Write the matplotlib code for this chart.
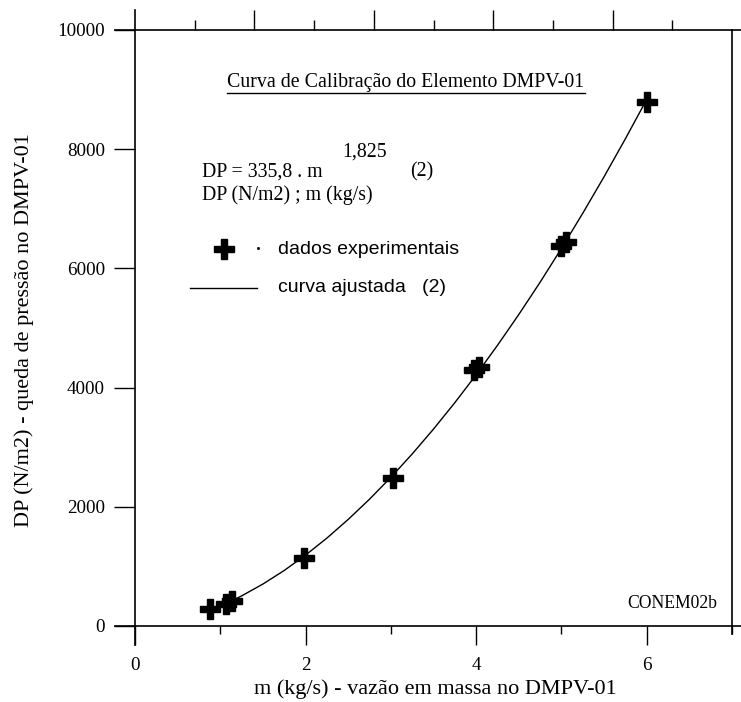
import matplotlib
matplotlib.use("Agg")
import matplotlib.pyplot as plt
from matplotlib.lines import Line2D

# experimental points (m kg/s, DP N/m2)
m_exp = [0.88, 1.07, 1.14, 1.98, 3.03, 3.98, 4.03, 5.00, 5.05, 6.00]
dp_exp = [285, 370, 420, 1140, 2480, 4300, 4350, 6380, 6450, 8800]

# fitted curve (DP = 335,8 . m^1,825)
m_fit = [1.10, 1.25, 1.50, 1.75, 2.00, 2.25, 2.50, 2.75, 3.00, 3.25, 3.50,
         3.75, 4.00, 4.25, 4.50, 4.75, 5.00, 5.25, 5.50, 5.75, 6.00]
dp_fit = [400, 505, 704, 932, 1190, 1475, 1788, 2128, 2494, 2886, 3304,
          3747, 4215, 4709, 5226, 5768, 6335, 6925, 7538, 8175, 8835]

x_ticks = [0, 2, 4, 6]
y_ticks = [0, 2000, 4000, 6000, 8000, 10000]

W, H = 741, 702
fig = plt.figure(figsize=(W / 100, H / 100), dpi=100)
serif = "Liberation Serif"
sans = "Liberation Sans"

# axes box: x 0..7 -> px 135..732, y 0..10000 -> px 626..30
ax = fig.add_axes([135 / W, (H - 626) / H, (732 - 135) / W, (626 - 30) / H])
ax.set_xlim(0, 7)
ax.set_ylim(0, 10000)
for s in ax.spines.values():
    s.set_visible(False)

px = 1 / 597  # one pixel in axes x fraction
py = 1 / 596
lw = 1.2
# frame lines, extending past the box like the original
ax.plot([-20 * px, 1 + 9 * px], [0, 0], color="black", lw=lw, transform=ax.transAxes, clip_on=False)
ax.plot([-20 * px, 1 + 9 * px], [1, 1], color="black", lw=lw, transform=ax.transAxes, clip_on=False)
ax.plot([0, 0], [-19 * py, 1 + 20 * py], color="black", lw=lw, transform=ax.transAxes, clip_on=False)
ax.plot([1, 1], [-8 * py, 1], color="black", lw=lw, transform=ax.transAxes, clip_on=False)

ax.set_xticks(x_ticks)
ax.set_xticks([1, 3, 5, 7], minor=True)
ax.set_yticks(y_ticks)
ax.tick_params(axis="x", which="major", direction="out", length=19 * 0.72, width=1, pad=9,
               labelsize=13.7)
ax.tick_params(axis="x", which="minor", direction="out", length=8 * 0.72, width=1)
ax.tick_params(axis="y", which="major", direction="out", length=21 * 0.72, width=1, pad=6.5,
               labelsize=13.7)
for lab in ax.get_xticklabels() + ax.get_yticklabels():
    lab.set_family(serif)

# top axis: its own 0..10 scale, ticks only
top = ax.twiny()
top.set_xlim(0, 10)
for s in top.spines.values():
    s.set_visible(False)
top.set_xticks([2, 4, 6, 8])
top.set_xticks([1, 3, 5, 7, 9], minor=True)
top.tick_params(axis="x", which="major", direction="out", length=20 * 0.72, width=1, labeltop=False)
top.tick_params(axis="x", which="minor", direction="out", length=10 * 0.72, width=1)

# data
ax.plot(m_fit, dp_fit, color="black", lw=1.0)
ax.plot(m_exp, dp_exp, linestyle="none", marker="P", markersize=14, color="black")

fig.text(435 / W, 1 - 689 / H, "m (kg/s) - vazão em massa no DMPV-01", family=serif,
         fontsize=16, ha="center", va="center")
fig.text(24 / W, 1 - 330 / H, "DP (N/m2) - queda de pressão no DMPV-01", family=serif,
         fontsize=16, ha="center", va="center", rotation=90)


def fx(p):
    return (p - 135) / 597


def fy(p):
    return (626 - p) / 596


T = ax.transAxes
fs = 14.3
title = ax.text(fx(406), fy(82), "Curva de Calibração do Elemento DMPV-01", transform=T,
                family=serif, fontsize=fs, ha="center", va="center")
ax.text(fx(342), fy(152), "1,825", transform=T, family=serif, fontsize=fs, va="center")
ax.text(fx(202), fy(172), "DP = 335,8 . m", transform=T, family=serif, fontsize=fs, va="center")
ax.text(fx(410), fy(172), "(2)", transform=T, family=serif, fontsize=fs, va="center")
ax.text(fx(202), fy(195), "DP (N/m2) ; m (kg/s)", transform=T, family=serif, fontsize=fs, va="center")

# legend drawn by hand
ax.plot([fx(224)], [fy(249)], marker="P", markersize=14, color="black", transform=T, clip_on=False)
ax.plot([fx(258)], [fy(248)], marker="s", markersize=1, color="black", transform=T)
ax.text(fx(278), fy(249), "dados experimentais", transform=T, family=sans, fontsize=14, va="center")
ax.plot([fx(190), fx(257)], [fy(288), fy(288)], color="black", lw=1.0, transform=T)
ax.text(fx(278), fy(287), "curva ajustada   (2)", transform=T, family=sans, fontsize=14, va="center")

ax.text(fx(717), fy(603), "CONEM02b", transform=T, family=serif, fontsize=12.7, ha="right", va="center")

# underline the title
fig.canvas.draw()
bb = title.get_window_extent()
fig.add_artist(Line2D([bb.x0 / W, bb.x1 / W], [(bb.y0 - 1) / H, (bb.y0 - 1) / H],
                      color="black", lw=1.0))

fig.savefig("out.png", dpi=100)
